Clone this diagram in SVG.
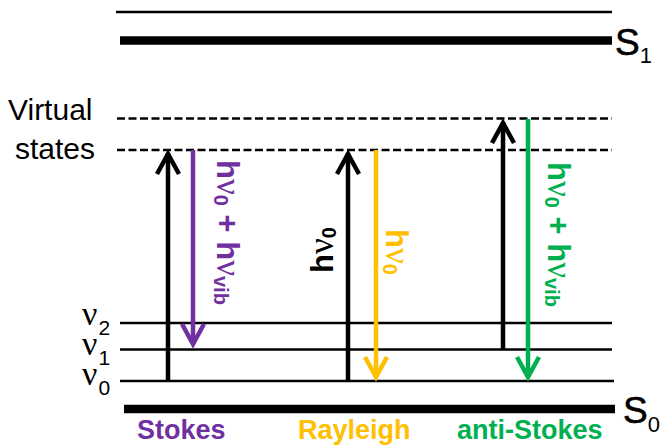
<svg xmlns="http://www.w3.org/2000/svg" width="665" height="445" viewBox="0 0 665 445">
<style>
.lvl{stroke:#000;stroke-width:2.6;fill:none}
.thick{stroke:#000;stroke-width:8.5;fill:none}
.dash{stroke:#000;stroke-width:2.6;fill:none;stroke-dasharray:8 3.5}
.arr{stroke-width:4.5;fill:none;stroke-linejoin:miter;stroke-miterlimit:10}
.k{stroke:#000}.p{stroke:#7030A0}.y{stroke:#FFC000}.g{stroke:#00B050}
.lab{font-family:"Liberation Sans",Arial,sans-serif;font-weight:bold}
.reg{font-family:"Liberation Sans",Arial,sans-serif}
.nu{font-family:"Liberation Serif","Times New Roman",serif;font-weight:normal}
.vn{font-family:"Liberation Serif","Times New Roman",serif;font-size:34px}
.vs{font-family:"Liberation Sans",Arial,sans-serif;font-size:21px}
</style>
<rect width="665" height="445" fill="#fff"/>
<g id="S1">
<line class="lvl" x1="116" y1="12" x2="612" y2="12"/>
<line class="thick" x1="120" y1="40.5" x2="612" y2="40.5"/>
<text class="reg" x="615" y="55" font-size="37" stroke="#000" stroke-width="0.6">S<tspan font-size="22" stroke-width="0" dy="8">1</tspan></text>
</g>
<g id="virtual">
<line class="dash" x1="117" y1="118.5" x2="612" y2="118.5"/>
<line class="dash" x1="117" y1="150" x2="612" y2="150"/>
<text class="reg" x="8" y="120" font-size="30">Virtual</text>
<text class="reg" x="15" y="159" font-size="30">states</text>
</g>
<g id="vib">
<line class="lvl" x1="120" y1="323" x2="612" y2="323"/>
<line class="lvl" x1="120" y1="349.5" x2="612" y2="349.5"/>
<line class="lvl" x1="120" y1="381" x2="614" y2="381"/>
<text class="vn" x="82" y="325">ν<tspan class="vs" dx="1" dy="10">2</tspan></text>
<text class="vn" x="82" y="355">ν<tspan class="vs" dx="1" dy="10">1</tspan></text>
<text class="vn" x="82" y="385">ν<tspan class="vs" dx="1" dy="10">0</tspan></text>
</g>
<g id="S0">
<line class="thick" x1="124" y1="409" x2="615" y2="409"/>
<text class="reg" x="623" y="423" font-size="37" stroke="#000" stroke-width="0.6">S<tspan font-size="22" stroke-width="0" dy="9">0</tspan></text>
</g>
<g id="connectors">
<line class="arr k" x1="168" y1="381" x2="168" y2="153"/>
<polyline class="arr k" points="157,174 168,154 179,174"/>
<line class="arr p" x1="193" y1="150" x2="193" y2="344"/>
<polyline class="arr p" points="182,324 193,344 204,324"/>
<line class="arr k" x1="348" y1="381" x2="348" y2="153"/>
<polyline class="arr k" points="337,174 348,154 359,174"/>
<line class="arr y" x1="376" y1="150" x2="376" y2="377"/>
<polyline class="arr y" points="365,357 376,377 387,357"/>
<line class="arr k" x1="503" y1="350" x2="503" y2="122"/>
<polyline class="arr k" points="492,143 503,123 514,143"/>
<line class="arr g" x1="528" y1="119" x2="528" y2="377"/>
<polyline class="arr g" points="517,357 528,377 539,357"/>
</g>
<g id="stokes">
<text class="lab" fill="#7030A0" font-size="31" transform="translate(217,160) rotate(90)">h<tspan class="nu" font-size="35">ν</tspan><tspan font-size="20" dy="3">0</tspan><tspan dy="-3"> + h</tspan><tspan class="nu" font-size="35">ν</tspan><tspan font-size="20" dy="3">vib</tspan></text>
<text class="lab" fill="#7030A0" font-size="27" x="137" y="439">Stokes</text>
</g>
<g id="rayleigh">
<text class="lab" fill="#000" font-size="31" transform="translate(333,273) rotate(-90)">h<tspan class="nu" font-size="35">ν</tspan><tspan font-size="20" dy="3">0</tspan></text>
<text class="lab" fill="#FFC000" font-size="31" transform="translate(386,229) rotate(90)">h<tspan class="nu" font-size="35">ν</tspan><tspan font-size="20" dy="3">0</tspan></text>
<text class="lab" fill="#FFC000" font-size="27" x="298" y="439">Rayleigh</text>
</g>
<g id="antistokes">
<text class="lab" fill="#00B050" font-size="31" transform="translate(548,162) rotate(90)">h<tspan class="nu" font-size="35">ν</tspan><tspan font-size="20" dy="3">0</tspan><tspan dy="-3"> + h</tspan><tspan class="nu" font-size="35">ν</tspan><tspan font-size="20" dy="3">vib</tspan></text>
<text class="lab" fill="#00B050" font-size="27" x="457" y="439">anti-Stokes</text>
</g>
</svg>
